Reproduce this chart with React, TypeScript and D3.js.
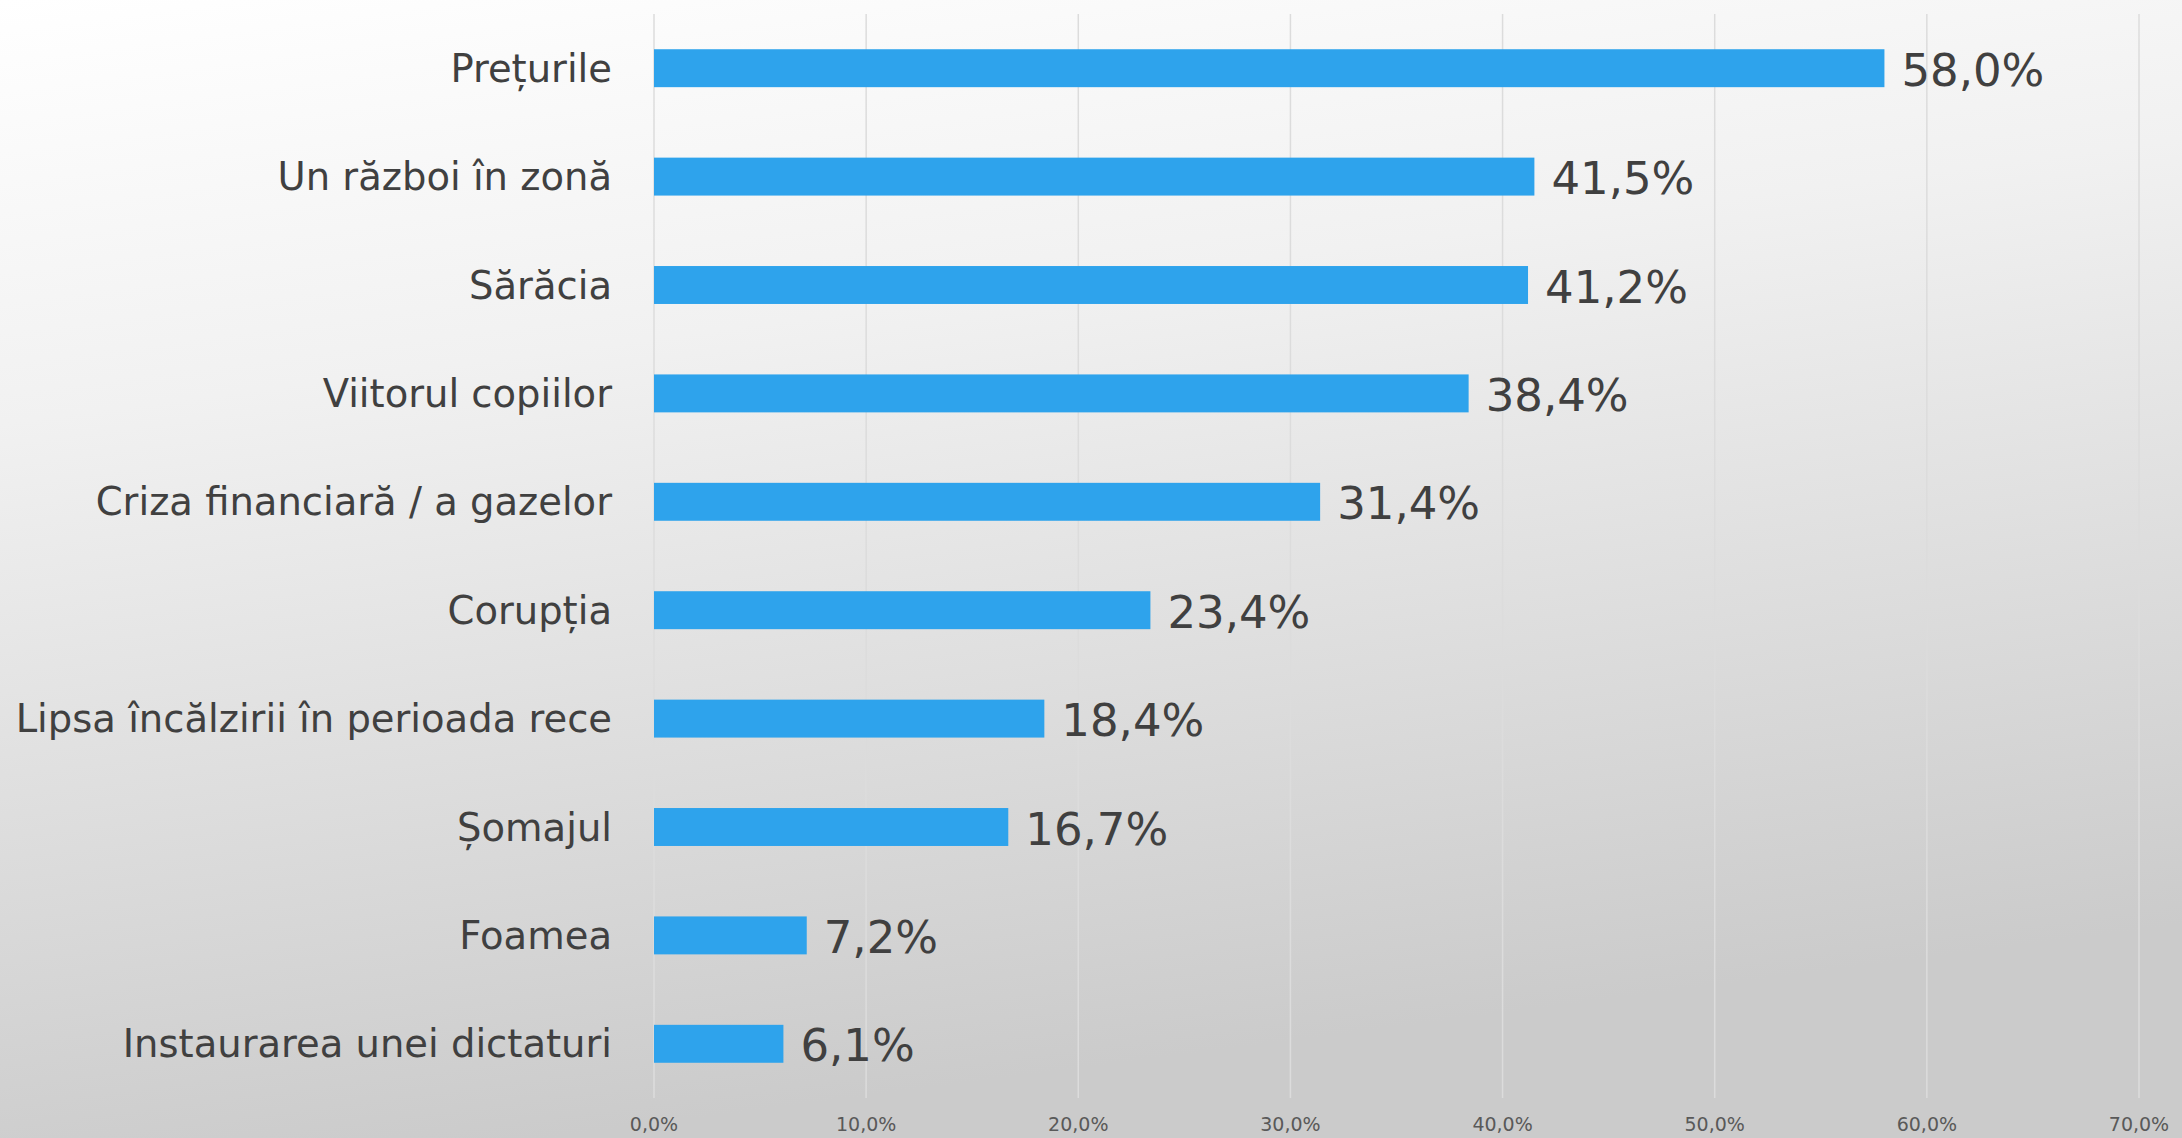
import React from "react";
import * as d3 from "d3";

const categories = [
  "Prețurile",
  "Un război în zonă",
  "Sărăcia",
  "Viitorul copiilor",
  "Criza financiară / a gazelor",
  "Corupția",
  "Lipsa încălzirii în perioada rece",
  "Șomajul",
  "Foamea",
  "Instaurarea unei dictaturi",
];
const values = [58.0, 41.5, 41.2, 38.4, 31.4, 23.4, 18.4, 16.7, 7.2, 6.1];
const ticks = [0, 10, 20, 30, 40, 50, 60, 70];

const W = 2182;
const H = 1138;
const FONT = "'DejaVu Sans', sans-serif";

const fmt = (v: number) => v.toFixed(1).replace(".", ",") + "%";

export default function App() {
  const x = d3.scaleLinear().domain([0, 70]).range([654, 2139]);
  const y = d3.scaleBand<string>().domain(categories).range([14, 1098]).paddingInner(0.65).paddingOuter(0.325);
  const bw = y.bandwidth();
  return (
    <svg width={W} height={H} style={{ position: "absolute", left: 0, top: 0 }} xmlns="http://www.w3.org/2000/svg">
      <defs>
        <linearGradient id="bg" x1="0" y1="0" x2="0.25" y2="1">
          <stop offset="0" stopColor="#ffffff" />
          <stop offset="0.35" stopColor="#f1f1f1" />
          <stop offset="1" stopColor="#cbcbcb" />
        </linearGradient>
      </defs>
      <rect x={0} y={0} width={W} height={H} fill="url(#bg)" />
      {ticks.map((t) => (
        <line key={"g" + t} x1={x(t)} x2={x(t)} y1={14} y2={1098} stroke="#dcdcdc" strokeWidth={1.5} />
      ))}
      {ticks.map((t) => (
        <text key={"t" + t} x={x(t)} y={1124} textAnchor="middle" dominantBaseline="central" fontFamily={FONT} fontSize={19} fill="#595959">
          {fmt(t)}
        </text>
      ))}
      {categories.map((c, i) => {
        const yc = (y(c) as number) + bw / 2;
        return (
          <g key={c}>
            <rect x={x(0)} y={y(c)} width={x(values[i]) - x(0)} height={bw} fill="#2ea3ec" />
            <text x={612} y={yc} textAnchor="end" dominantBaseline="central" fontFamily={FONT} fontSize={38.5} fill="#404040">
              {c}
            </text>
            <text x={x(values[i]) + 17} y={yc + 2} dominantBaseline="central" fontFamily={FONT} fontSize={45} fill="#404040">
              {fmt(values[i])}
            </text>
          </g>
        );
      })}
    </svg>
  );
}
